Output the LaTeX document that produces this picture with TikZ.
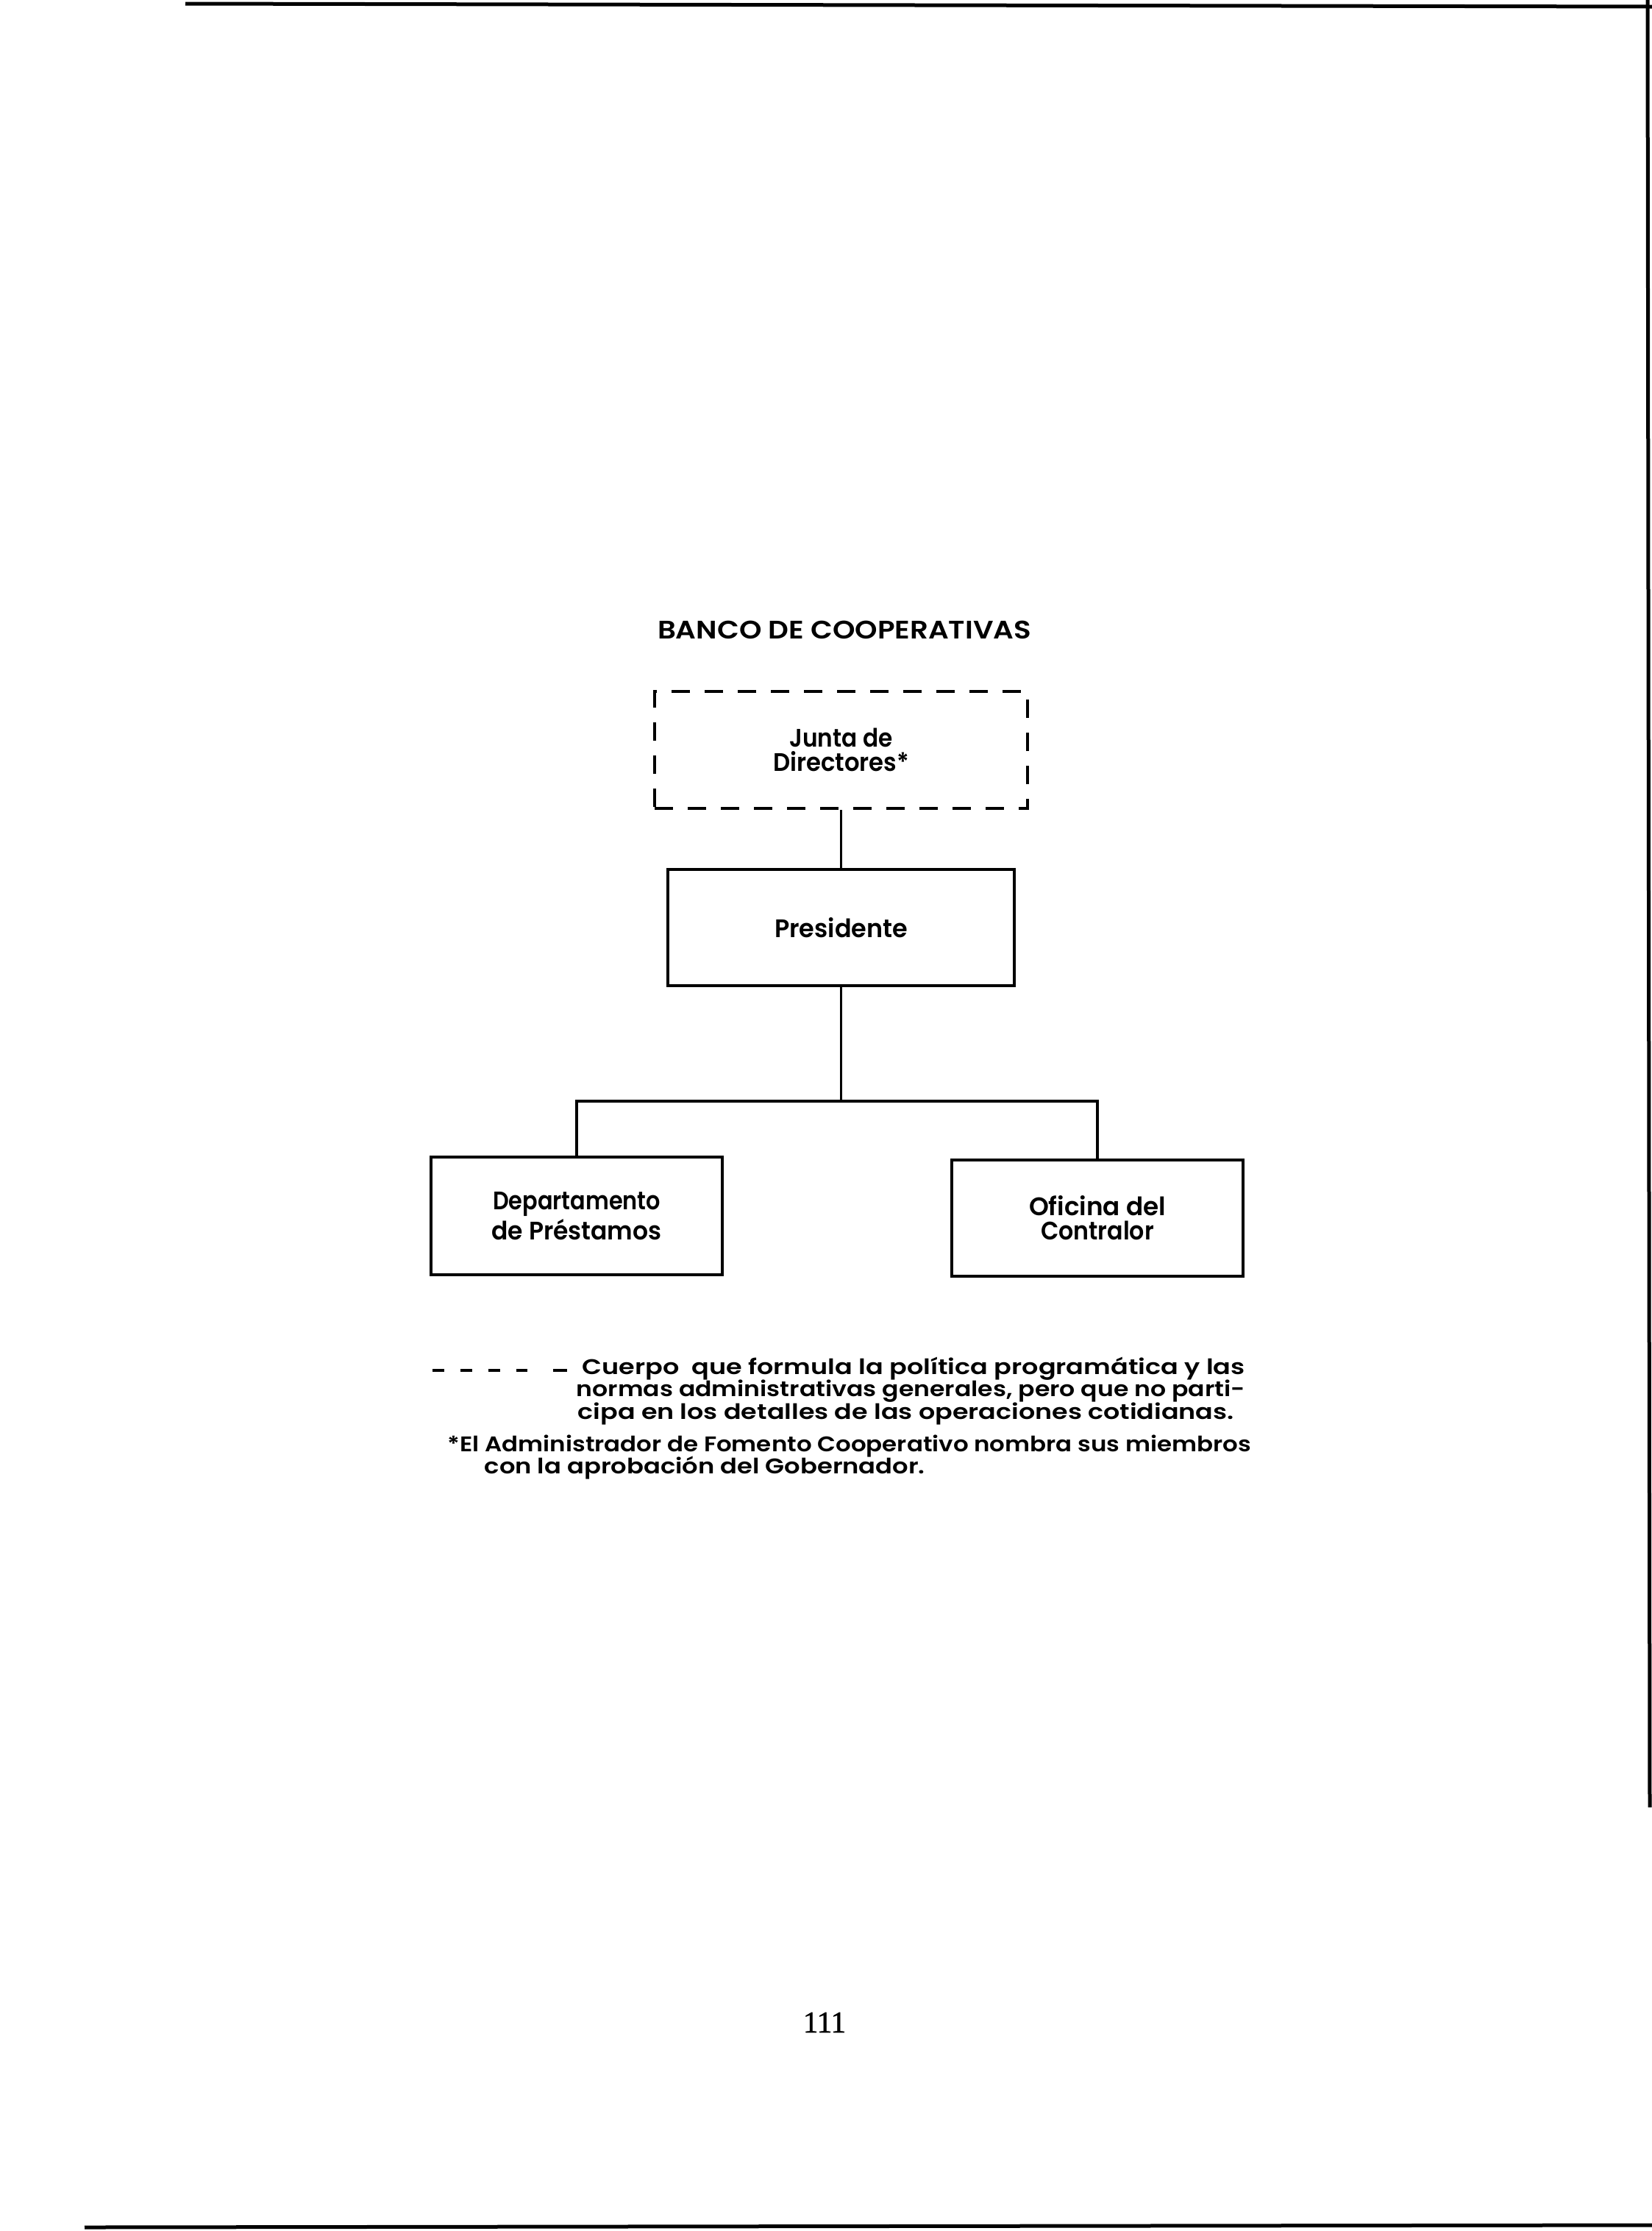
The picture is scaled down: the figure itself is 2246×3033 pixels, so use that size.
\documentclass[tikz,border=0pt]{standalone}
\usepackage{fontspec}
\usepackage{graphicx}
\setmainfont{Poppins SemiBold}
\newfontfamily\numfont{Liberation Serif}[FakeBold=1.4]
\newcommand{\fw}[2]{\resizebox{#1mm}{\height}{#2}}
\begin{document}
\begin{tikzpicture}[x=0.1mm,y=-0.1mm,
  boxfont/.style={font=\fontsize{9.8}{9.4}\selectfont},
  smallfont/.style={font=\fontsize{8.2}{8.2}\selectfont},
  sbox/.style={draw, line width=0.42mm, rectangle, align=center, inner sep=0pt, boxfont},
  dbox/.style={draw, line width=0.42mm, rectangle, align=center, inner sep=0pt, boxfont,
     dash pattern=on 2.5mm off 2.0mm},
  conn/.style={draw, line width=0.38mm},
  legline/.style={inner sep=0pt, anchor=base west, smallfont},
  scanline/.style={line width=0.5mm},
  legdash/.style={line width=0.4mm, dash pattern=on 1.6mm off 2.2mm on 1.6mm off 2.2mm on 1.6mm off 2.2mm on 1.5mm off 3.5mm on 1.9mm off 5mm}
]
\useasboundingbox (0,0) rectangle (2246,3033);
% scan frame lines
\draw[scanline] (252,5) -- (2246,9);
\draw[scanline] (2240,0) -- (2243,2457);
\draw[scanline] (115,3028) -- (2246,3025);

% title
\node[inner sep=0pt, anchor=base, boxfont] (title) at (1148,868) {\fw{50.8}{BANCO DE COOPERATIVAS}};

% boxes
\node[dbox, minimum width=50.7mm, minimum height=15.9mm] (junta) at (1143.5,1019.5)
  {\fw{14.0}{Junta de}\\\fw{18.5}{Directores*}};
\node[sbox, minimum width=47.1mm, minimum height=15.8mm] (pres) at (1143.5,1261)
  {\fw{18.1}{Presidente}};
\node[sbox, minimum width=39.6mm, minimum height=16.0mm] (dept) at (784,1653)
  {\fw{22.8}{Departamento}\\\fw{23.1}{de Préstamos}};
\node[sbox, minimum width=39.6mm, minimum height=15.8mm] (ofic) at (1492,1656)
  {\fw{18.6}{Oficina del}\\\fw{15.4}{Contralor}};

% connectors
\draw[conn] (junta.south) -- (pres.north);
\coordinate (bus) at (1143.5,1497);
\draw[conn] (pres.south) -- (bus);
\draw[conn] (dept.north) |- (bus) -| (ofic.north);

% legend
\coordinate (ld1) at (588,1863);
\coordinate (ld2) at (773,1863);
\draw[legdash] (ld1) -- (ld2);
\node[legline] (leg1) at (791,1868) {\fw{90.1}{Cuerpo\ \ que formula la política programática y las}};
\node[legline] (leg2) at (783,1898) {\fw{90.9}{normas administrativas generales, pero que no parti-}};
\node[legline] (leg3) at (785,1929) {\fw{89.2}{cipa en los detalles de las operaciones cotidianas.}};
\node[legline] (foot1) at (608,1973) {\fw{109.2}{*El Administrador de Fomento Cooperativo nombra sus miembros}};
\node[legline] (foot2) at (658,2003) {\fw{59.9}{con la aprobación del Gobernador.}};

% page number
\node[inner sep=0pt, anchor=base, font=\numfont\fontsize{11.7}{12}\selectfont] (pagenum) at (1121,2763) {\fw{5.8}{111}};
\end{tikzpicture}
\end{document}
